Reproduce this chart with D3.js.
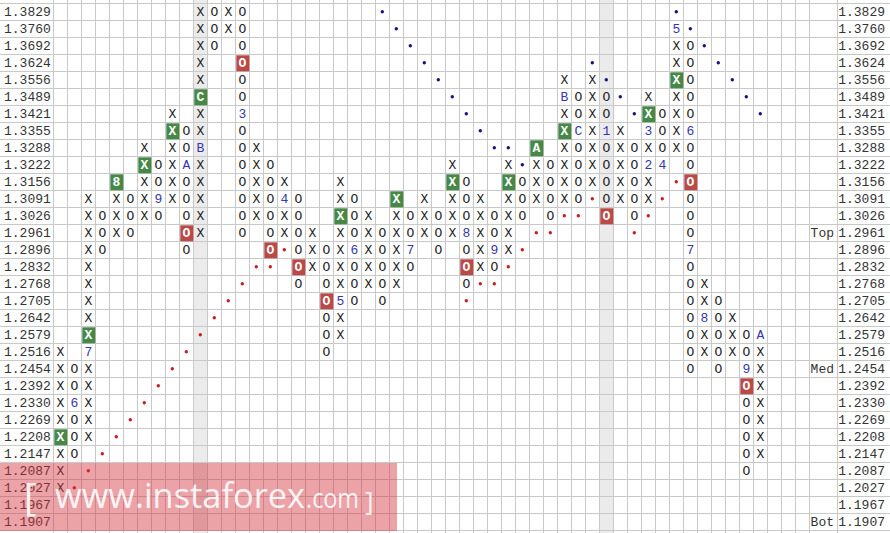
<!DOCTYPE html>
<html><head><meta charset="utf-8">
<script src="https://cdn.jsdelivr.net/npm/d3@7"></script>
<style>body{margin:0;background:#fff;overflow:hidden}</style>
</head><body><svg id="c" width="890" height="533"></svg>
<script>
const prices = ["1.3829","1.3760","1.3692","1.3624","1.3556","1.3489","1.3421","1.3355","1.3288","1.3222",
  "1.3156","1.3091","1.3026","1.2961","1.2896","1.2832","1.2768","1.2705","1.2642","1.2579",
  "1.2516","1.2454","1.2392","1.2330","1.2269","1.2208","1.2147","1.2087","1.2027","1.1967","1.1907"];
const nCols = 54;
const colTypes = "XOXOXOXOXOXOXOXOXOXOXOXOXOXOXOXOXOXOXOXOXOXOXOXOXOX".split("");
const colHigh = ["1.2516","1.2454","1.3091","1.3026","1.3156","1.3091","1.3288","1.3222","1.3421","1.3355",
  "1.3829","1.3829","1.3829","1.3829","1.3288","1.3222","1.3156","1.3091","1.2961","1.2896",
  "1.3156","1.3091","1.3026","1.2961","1.3091","1.3026","1.3091","1.3026","1.3222","1.3156",
  "1.3091","1.3026","1.3222","1.3156","1.3288","1.3222","1.3556","1.3489","1.3556","1.3489",
  "1.3355","1.3288","1.3489","1.3421","1.3760","1.3692","1.2768","1.2705","1.2642","1.2579","1.2579"];
const colLow = ["1.2027","1.2147","1.2208","1.2896","1.2961","1.2961","1.3026","1.3026","1.3091","1.2896",
  "1.2961","1.3692","1.3760","1.2961","1.3026","1.2896","1.2961","1.2768","1.2832","1.2516",
  "1.2579","1.2705","1.2768","1.2705","1.2768","1.2832","1.2961","1.2896","1.2961","1.2768",
  "1.2832","1.2832","1.2896","1.3026","1.3091","1.3026","1.3091","1.3091","1.3156","1.3026",
  "1.3091","1.3026","1.3091","1.3222","1.3288","1.2454","1.2516","1.2454","1.2516","1.2087","1.2147"];
const greenBoxes = [[0,"1.2208"],[2,"1.2579"],[4,"1.3156"],[6,"1.3222"],[8,"1.3355"],[10,"1.3489"],
  [20,"1.3026"],[24,"1.3091"],[28,"1.3156"],[32,"1.3156"],[34,"1.3288"],[36,"1.3355"],[42,"1.3421"],[44,"1.3556"]];
const redBoxes = [[9,"1.2961"],[13,"1.3624"],[15,"1.2896"],[17,"1.2832"],[19,"1.2705"],[29,"1.2832"],
  [39,"1.3026"],[45,"1.3156"],[49,"1.2392"]];
const monthLabels = [[1,"1.2330","6"],[2,"1.2516","7"],[4,"1.3156","8"],[7,"1.3091","9"],[9,"1.3222","A"],
  [10,"1.3288","B"],[10,"1.3489","C"],[13,"1.3421","3"],[16,"1.3091","4"],[20,"1.2705","5"],[21,"1.2896","6"],
  [25,"1.2896","7"],[29,"1.2961","8"],[31,"1.2896","9"],[34,"1.3288","A"],[36,"1.3489","B"],[37,"1.3355","C"],
  [39,"1.3355","1"],[42,"1.3222","2"],[42,"1.3355","3"],[43,"1.3222","4"],[44,"1.3760","5"],[45,"1.3355","6"],
  [45,"1.2896","7"],[46,"1.2642","8"],[49,"1.2454","9"],[50,"1.2579","A"]];
const blueDots = [[23,"1.3829"],[24,"1.3760"],[25,"1.3692"],[26,"1.3624"],[27,"1.3556"],[28,"1.3489"],
  [29,"1.3421"],[30,"1.3355"],[31,"1.3288"],[32,"1.3288"],[33,"1.3222"],[38,"1.3624"],[39,"1.3556"],
  [40,"1.3489"],[41,"1.3421"],[44,"1.3829"],[45,"1.3760"],[46,"1.3692"],[47,"1.3624"],[48,"1.3556"],
  [49,"1.3489"],[50,"1.3421"]];
const redDots = [[1,"1.2027"],[2,"1.2087"],[3,"1.2147"],[4,"1.2208"],[5,"1.2269"],[6,"1.2330"],[7,"1.2392"],
  [8,"1.2454"],[9,"1.2516"],[10,"1.2579"],[11,"1.2642"],[12,"1.2705"],[13,"1.2768"],[14,"1.2832"],
  [15,"1.2832"],[16,"1.2896"],[29,"1.2705"],[30,"1.2768"],[31,"1.2768"],[32,"1.2832"],[33,"1.2896"],
  [34,"1.2961"],[35,"1.2961"],[36,"1.3026"],[37,"1.3026"],[38,"1.3091"],[41,"1.2961"],[42,"1.3026"],
  [43,"1.3091"],[44,"1.3156"]];
const highlightCols = [10, 39];
const sideLabels = [["Top","1.2961"],["Med","1.2454"],["Bot","1.1907"]];

const W = 890, H = 533;
const svg = d3.select("#c");
const x = d3.scaleBand().domain(d3.range(nCols)).range([53.3, 809.3]);
const y = d3.scaleBand().domain(prices).range([3.3, 530.3]);
const bw = x.bandwidth(), bh = y.bandwidth();
const FONT = "'Courier New','Liberation Mono',monospace";

// highlighted columns
svg.selectAll("rect.hl").data(highlightCols).join("rect")
  .attr("x", d => x(d)).attr("y", 0).attr("width", bw).attr("height", H).attr("fill", "#ebebeb");

// grid
const g = svg.append("g").attr("stroke", "#c9c9c9").attr("stroke-width", 1).attr("shape-rendering", "crispEdges");
const hLines = prices.map(p => y(p)).concat([y(prices[prices.length-1]) + bh]);
g.selectAll("line.h").data(hLines).join("line")
  .attr("x1", 0).attr("x2", W).attr("y1", d => Math.round(d) + 0.5).attr("y2", d => Math.round(d) + 0.5);
const vLines = d3.range(nCols).map(j => x(j)).concat([x(nCols-1) + bw, 836.7]);
g.selectAll("line.v").data(vLines).join("line")
  .attr("y1", 0).attr("y2", H).attr("x1", d => Math.round(d) + 0.5).attr("x2", d => Math.round(d) + 0.5);

const key = (c, p) => c + "|" + p;
const boxMap = new Map();
greenBoxes.forEach(([c,p]) => boxMap.set(key(c,p), "#468847"));
redBoxes.forEach(([c,p]) => boxMap.set(key(c,p), "#b94a48"));
const labelMap = new Map(monthLabels.map(([c,p,l]) => [key(c,p), l]));

// build cells
const cells = [];
colTypes.forEach((t, c) => {
  const i0 = prices.indexOf(colHigh[c]), i1 = prices.indexOf(colLow[c]);
  for (let i = i0; i <= i1; i++) {
    const p = prices[i], k = key(c, p);
    cells.push({c, p, t, box: boxMap.get(k), label: labelMap.get(k)});
  }
});

const cx = c => x(c) + bw / 2;
const cy = p => y(p) + bh / 2;

// boxes
svg.selectAll("rect.box").data(cells.filter(d => d.box)).join("rect")
  .attr("x", d => x(d.c) + 1).attr("y", d => y(d.p) + 1)
  .attr("width", bw - 1).attr("height", bh - 1).attr("fill", d => d.box);

svg.selectAll("text.mark").data(cells).join("text")
  .attr("x", d => cx(d.c)).attr("y", d => cy(d.p) + 4.5)
  .attr("text-anchor", "middle")
  .attr("font-family", FONT).attr("font-size", 13)
  .attr("font-weight", d => d.box ? "bold" : "normal")
  .attr("fill", d => d.box ? "#fff" : (d.label ? "#3535b0" : "#222"))
  .text(d => d.label || d.t);

// trend dots
svg.selectAll("circle.bd").data(blueDots).join("circle")
  .attr("cx", d => cx(d[0])).attr("cy", d => cy(d[1])).attr("r", 1.7).attr("fill", "#141480");
svg.selectAll("circle.rd").data(redDots).join("circle")
  .attr("cx", d => cx(d[0])).attr("cy", d => cy(d[1])).attr("r", 1.7).attr("fill", "#c81e1e");

// price labels
svg.selectAll("text.pl").data(prices).join("text")
  .attr("x", 4).attr("y", d => cy(d) + 4.5)
  .attr("font-family", FONT).attr("font-size", 13).attr("fill", "#333").text(d => d);
svg.selectAll("text.pr").data(prices).join("text")
  .attr("x", 885).attr("y", d => cy(d) + 4.5).attr("text-anchor", "end")
  .attr("font-family", FONT).attr("font-size", 13).attr("fill", "#333").text(d => d);
svg.selectAll("text.side").data(sideLabels).join("text")
  .attr("x", 834).attr("y", d => cy(d[1]) + 4.5).attr("text-anchor", "end")
  .attr("font-family", FONT).attr("font-size", 13).attr("fill", "#333").text(d => d[0]);

// watermark
const wm = svg.append("g");
wm.append("rect").attr("x", 0).attr("y", 463).attr("width", 397).attr("height", 68)
  .attr("fill", "rgba(212,52,62,0.45)");
const wt = wm.append("g").attr("fill", "#fff").attr("fill-opacity", 0.9).attr("font-family", "'Open Sans','Noto Sans',sans-serif");
wt.append("text").attr("x", 24).attr("y", 511).attr("font-size", 38).text("[");
wt.append("text").attr("x", 55).attr("y", 508).attr("font-size", 35)
  .attr("textLength", 250).attr("lengthAdjust", "spacingAndGlyphs").text("www.instaforex");
wt.append("text").attr("x", 306).attr("y", 508).attr("font-size", 27)
  .attr("textLength", 53).attr("lengthAdjust", "spacingAndGlyphs").text(".com");
wt.append("text").attr("x", 365).attr("y", 510).attr("font-size", 26).text("]");
</script>
</body></html>
